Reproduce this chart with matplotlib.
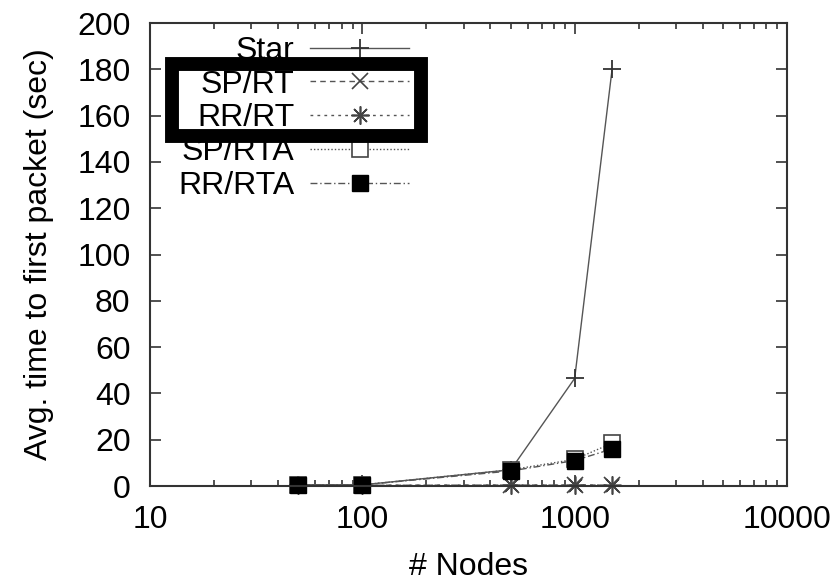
import matplotlib
matplotlib.use("Agg")
from matplotlib import pyplot as plt
from matplotlib.patches import Rectangle
from matplotlib.ticker import LogLocator, MultipleLocator, NullFormatter
import numpy as np

plt.rcParams['font.family'] = ['Liberation Sans', 'DejaVu Sans']

nodes = [50, 100, 500, 1000, 1500]
star = [0.5, 0.5, 7.0, 46.5, 180.0]
sp_rt = [0.3, 0.3, 0.4, 0.4, 0.4]
rr_rt = [0.3, 0.3, 0.4, 0.4, 0.4]
sp_rta = [0.5, 0.5, 7.0, 11.5, 18.5]
rr_rta = [0.5, 0.5, 6.5, 11.0, 16.0]

fig = plt.figure(figsize=(8.37, 5.84), dpi=100)
ax = fig.add_axes([0.1792, 0.1678, 0.7611, 0.7928])

fs = 23
gray = '#555555'
ax.plot(nodes, star, color=gray, lw=1, ls='-', marker='+', ms=13, mew=1.3, mec='#333333',
        label='Star', clip_on=False)
ax.plot(nodes, sp_rt, color=gray, lw=1, ls=(0, (4, 3)), marker='x', ms=11, mew=1.2, mec='#444444',
        label='SP/RT', clip_on=False)
ax.plot(nodes, rr_rt, color=gray, lw=1, ls=(0, (2, 3)), marker=(8, 2, 0), ms=13, mew=1.2, mec='#444444',
        label='RR/RT', clip_on=False)
ax.plot(nodes, sp_rta, color=gray, lw=1, ls=(0, (1, 1.5)), marker='s', ms=12, mfc='white', mec='#444444',
        mew=1.2, label='SP/RTA', clip_on=False)
ax.plot(nodes, rr_rta, color=gray, lw=1, ls=(0, (5, 2, 1, 2)), marker='s', ms=12, mfc='black', mec='black',
        label='RR/RTA', clip_on=False)

ax.set_xscale('log')
ax.set_xlim(10, 10000)
ax.set_ylim(0, 200)
ax.yaxis.set_major_locator(MultipleLocator(20))
ax.xaxis.set_minor_locator(LogLocator(base=10, subs=np.arange(2, 10)))
ax.xaxis.set_minor_formatter(NullFormatter())
ax.set_xticks([10, 100, 1000, 10000])
ax.set_xticklabels(['10', '100', '1000', '10000'])

ax.tick_params(which='both', direction='in', top=True, right=True, color='#333333', width=1.2)
ax.tick_params(which='major', length=8, labelsize=fs)
ax.tick_params(which='minor', length=4)
ax.tick_params(axis='x', pad=14)
ax.tick_params(axis='y', pad=14)
for sp in ax.spines.values():
    sp.set_linewidth(1.5)
    sp.set_color('#333333')

ax.set_xlabel('# Nodes', fontsize=fs, labelpad=12)
ax.set_ylabel('Avg. time to first packet (sec)', fontsize=fs, labelpad=17)

leg = ax.legend(loc='upper left', bbox_to_anchor=(0.024, 1.0), frameon=False, fontsize=fs,
                markerfirst=False, handlelength=3.1, handletextpad=0.5, labelspacing=0.12,
                borderaxespad=0.2, borderpad=0.2)

# highlight box drawn over the legend
fig.patches.append(Rectangle((0.2055, 0.767), 0.2975, 0.124, transform=fig.transFigure,
                             fill=False, edgecolor='black', linewidth=10, zorder=10))

fig.savefig('out.png', dpi=100)
